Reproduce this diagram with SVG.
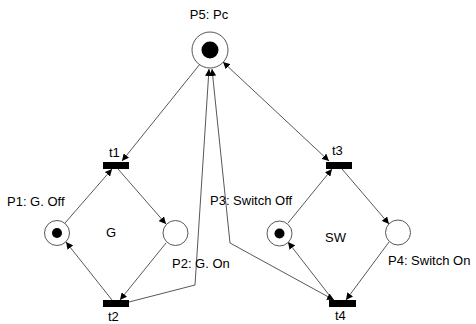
<svg xmlns="http://www.w3.org/2000/svg" width="476" height="324" viewBox="0 0 476 324">
<style>
.pl{fill:#fff;stroke:#444;stroke-width:0.9}
.tok{fill:#000}
.tr{fill:#000}
.arc{fill:none;stroke:#444;stroke-width:0.9}
text{font-family:"Liberation Sans",Arial,sans-serif;font-size:13px;fill:#000}
</style>
<defs>
<marker id="ah" markerUnits="userSpaceOnUse" markerWidth="8" markerHeight="7" refX="7" refY="3.5" orient="auto-start-reverse">
<path d="M0,0 L7,3.5 L0,7 Z" fill="#000"/>
</marker>
</defs>
<rect width="476" height="324" fill="#fff"/>
<g id="connectors">
<path class="arc" d="M200,64 L122,161" marker-end="url(#ah)"/>
<path class="arc" d="M65,223 L112,169" marker-end="url(#ah)"/>
<path class="arc" d="M118,169 L166,224" marker-end="url(#ah)"/>
<path class="arc" d="M166,243 L120,300" marker-end="url(#ah)"/>
<path class="arc" d="M112,300 L66,242" marker-end="url(#ah)"/>
<path class="arc" d="M129,302 L195,285 L209,69" marker-end="url(#ah)"/>
<path class="arc" d="M329,161 L223,62" marker-start="url(#ah)" marker-end="url(#ah)"/>
<path class="arc" d="M288,223 L332,169" marker-end="url(#ah)"/>
<path class="arc" d="M342,169 L389,224" marker-end="url(#ah)"/>
<path class="arc" d="M389,242 L346,300" marker-end="url(#ah)"/>
<path class="arc" d="M333,300 L288,242" marker-end="url(#ah)"/>
<path class="arc" d="M212,69 L230,243 L334,300" marker-start="url(#ah)" marker-end="url(#ah)"/>
</g>
<g id="P5"><circle class="pl" cx="210" cy="50" r="18"/><circle class="tok" cx="210" cy="50" r="8.5"/><text x="209" y="19" text-anchor="middle">P5: Pc</text></g>
<g id="P1"><circle class="pl" cx="57" cy="233" r="12.5"/><circle class="tok" cx="57" cy="233" r="5"/><text x="7" y="206">P1: G. Off</text></g>
<g id="P2"><circle class="pl" cx="175.5" cy="233" r="12.5"/><text x="172" y="268">P2: G. On</text></g>
<g id="P3"><circle class="pl" cx="279.5" cy="233.5" r="12.5"/><circle class="tok" cx="279.5" cy="233.5" r="5"/><text x="210" y="205">P3: Switch Off</text></g>
<g id="P4"><circle class="pl" cx="398" cy="232.5" r="12.5"/><text x="388" y="265">P4: Switch On</text></g>
<g id="t1"><rect class="tr" x="103" y="162" width="26" height="7"/><text x="109" y="157">t1</text></g>
<g id="t2"><rect class="tr" x="103" y="300" width="26" height="7"/><text x="108" y="321">t2</text></g>
<g id="t3"><rect class="tr" x="326" y="162" width="26" height="7"/><text x="332" y="155">t3</text></g>
<g id="t4"><rect class="tr" x="329" y="300" width="27" height="7"/><text x="335" y="320">t4</text></g>
<g id="labels"><text x="106" y="237">G</text><text x="325" y="242">SW</text></g>
</svg>
